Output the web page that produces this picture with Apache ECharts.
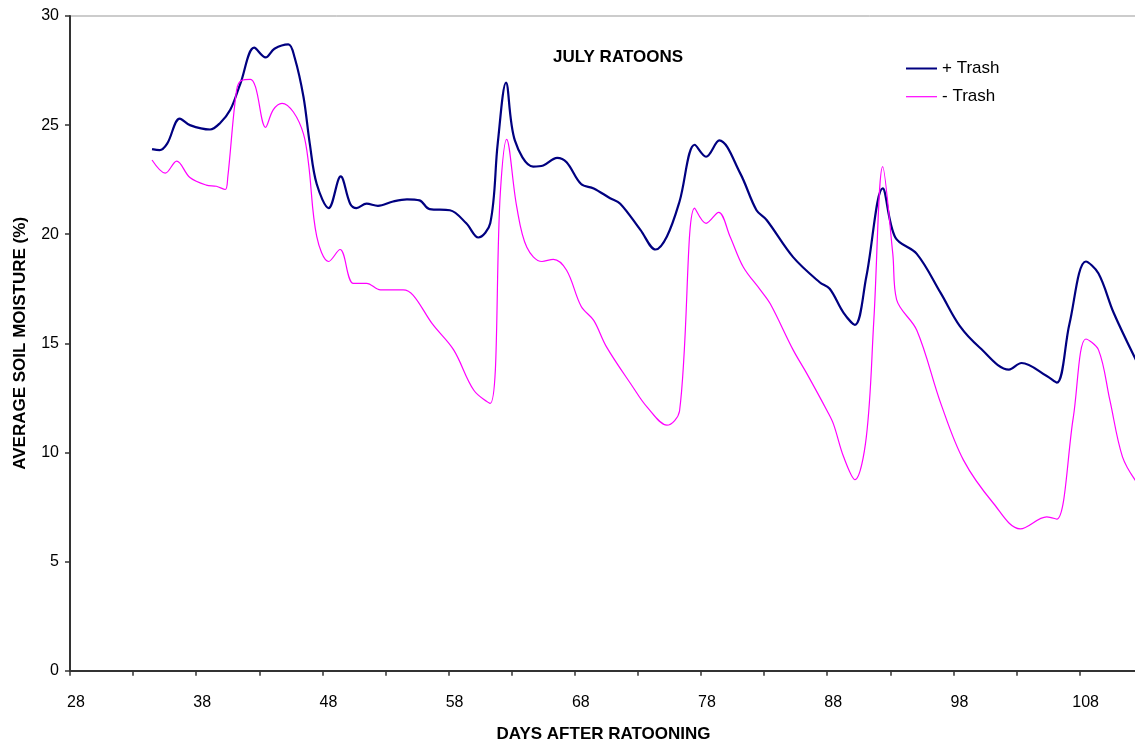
<!DOCTYPE html>
<html>
<head>
<meta charset="utf-8">
<script src="https://cdn.jsdelivr.net/npm/echarts@6/dist/echarts.min.js"></script>
<style>html,body{margin:0;padding:0;background:#fff}#c{width:1135px;height:745px}</style>
</head>
<body>
<div id="c"></div>
<script>
// Days after ratooning and average soil moisture (%)
const plusDays = [34.5,35.1,35.7,36.7,37.5,39.1,39.9,40.7,41.5,42.6,43.5,44.2,45.3,45.8,46.5,47.0,47.55,48.5,49.45,50.2,50.7,51.5,52.4,53.6,54.7,55.7,56.5,58.1,59.4,60.35,61.3,61.9,62.55,63.25,64.7,65.5,66.6,67.35,68.5,69.5,70.8,71.6,73.2,74.4,75.3,76.3,77.5,78.4,79.45,81.1,82.4,83.2,85.3,87.4,88.2,89.3,90.2,91.1,92.4,93.4,95.1,97.0,98.5,100.1,102.4,103.4,105.4,106.2,107.2,108.5,109.5,110.7,112.5];
const plusValues = [23.9,23.85,24.15,25.3,25.0,24.8,25.1,25.7,26.9,28.55,28.1,28.5,28.7,28.1,26.3,24.15,22.3,21.2,22.65,21.4,21.2,21.4,21.3,21.5,21.6,21.55,21.15,21.1,20.5,19.85,20.5,24.2,26.95,24.3,23.1,23.15,23.5,23.3,22.3,22.1,21.65,21.4,20.2,19.3,19.9,21.5,24.1,23.55,24.3,22.8,21.1,20.65,18.95,17.8,17.5,16.4,15.85,18.05,22.1,19.85,19.1,17.3,15.8,14.8,13.8,14.1,13.5,13.2,15.9,18.75,18.2,16.4,14.2];
const minusDays = [34.5,35.55,36.45,37.5,38.8,39.6,40.3,40.5,41.2,41.6,42.3,42.7,43.5,44.1,44.8,45.7,46.5,46.9,47.55,48.5,49.4,50.45,51.5,52.6,54.4,55.2,56.7,58.4,60.0,61.3,62.1,62.6,63.4,64.2,65.4,66.3,67.35,68.5,69.5,70.5,72.6,73.7,75.3,76.3,77.5,78.4,79.4,80.3,81.35,82.7,83.5,85.3,86.4,88.0,88.5,89.3,90.2,91.1,91.7,92.4,93.2,93.5,95.1,97.0,98.8,101.2,103.3,105.4,106.2,107.5,108.5,109.5,110.4,111.4,112.5];
const minusValues = [23.4,22.8,23.35,22.6,22.25,22.2,22.05,22.6,26.6,27.05,27.1,26.75,24.9,25.7,26.0,25.6,24.6,23.25,19.9,18.75,19.3,17.75,17.75,17.45,17.45,17.2,15.9,14.7,12.85,12.25,21.9,24.35,21.25,19.4,18.75,18.85,18.35,16.7,16.05,14.85,13.0,12.1,11.25,11.9,21.2,20.5,21.0,19.9,18.5,17.45,16.8,14.7,13.6,11.9,11.3,9.8,8.75,10.7,16.1,23.1,19.1,17.0,15.6,12.25,9.65,7.65,6.5,7.05,6.95,11.6,15.2,14.7,12.4,9.8,8.65];
const seriesNames = ['+ Trash', '- Trash'];
const xStart = 28;      // first labelled day on the x axis
const xEnd = 112.55;    // day at right edge of the plot

const toPairs = (d, v) => d.map((x, i) => [x - xStart, v[i]]);

const chart = echarts.init(document.getElementById('c'), null, {renderer: 'canvas'});
const font = 'Arial, "Liberation Sans", sans-serif';
chart.setOption({
  animation: false,
  backgroundColor: '#fff',
  title: {
    text: 'JULY RATOONS', left: 553, top: 49, padding: 0,
    textStyle: {fontFamily: font, fontSize: 17, fontWeight: 'bold', color: '#000'}
  },
  legend: {
    orient: 'vertical', left: 906, top: 60, padding: 0,
    itemWidth: 31, itemHeight: 14, itemGap: 11.2,
    itemStyle: {borderWidth: 0},
    textStyle: {fontFamily: font, fontSize: 17, color: '#000'},
    data: [
      {name: seriesNames[0], icon: 'path://M0,0H31V2H0Z'},
      {name: seriesNames[1], icon: 'path://M0,0H31V1.2H0Z'}
    ]
  },
  grid: {left: 70, top: 16, right: -2, bottom: 74.3, show: true, borderColor: '#999', borderWidth: 1,
         containLabel: false, outerBoundsMode: 'none'},
  xAxis: {
    type: 'value', min: 0, max: xEnd - xStart, interval: 5,
    name: 'DAYS AFTER RATOONING', nameLocation: 'middle', nameGap: 55,
    nameTextStyle: {fontFamily: font, fontSize: 17, fontWeight: 'bold', color: '#000'},
    axisLine: {show: true, lineStyle: {color: '#333', width: 2}},
    axisTick: {show: true, length: 5, lineStyle: {color: '#333', width: 1.5}},
    splitLine: {show: false},
    axisLabel: {
      fontFamily: font, fontSize: 16, color: '#000', margin: 24, padding: [0, 0, 0, 12],
      showMaxLabel: false,
      formatter: v => (Math.round(v) % 10 === 0 ? String(Math.round(v) + xStart) : '')
    }
  },
  yAxis: {
    type: 'value', min: 0, max: 30, interval: 5,
    name: 'AVERAGE SOIL MOISTURE (%)', nameLocation: 'middle', nameGap: 41, nameRotate: 90,
    nameTextStyle: {fontFamily: font, fontSize: 17, fontWeight: 'bold', color: '#000'},
    axisLine: {show: true, lineStyle: {color: '#333', width: 2}},
    axisTick: {show: true, length: 5, lineStyle: {color: '#333', width: 1.5}},
    splitLine: {show: false},
    axisLabel: {fontFamily: font, fontSize: 16, color: '#000', margin: 11}
  },
  series: [
    {
      name: seriesNames[0], type: 'line', data: toPairs(plusDays, plusValues),
      symbol: 'none', smooth: 0.35, clip: true,
      lineStyle: {color: '#000080', width: 2.2}, itemStyle: {color: '#000080'}
    },
    {
      name: seriesNames[1], type: 'line', data: toPairs(minusDays, minusValues),
      symbol: 'none', smooth: 0.35, clip: true,
      lineStyle: {color: '#FF00FF', width: 1.2}, itemStyle: {color: '#FF00FF'}
    }
  ]
});
</script>
</body>
</html>
